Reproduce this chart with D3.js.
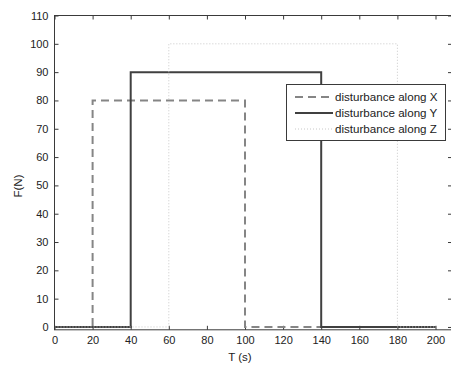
<!DOCTYPE html>
<html>
<head>
<meta charset="utf-8">
<script src="https://cdn.jsdelivr.net/npm/d3@7"></script>
<style>
  html, body { margin: 0; padding: 0; background: #fff; }
  svg text { font-family: "Liberation Sans", Arial, sans-serif; }
</style>
</head>
<body>
<svg id="chart" width="451" height="370"></svg>
<script>
// ---- data ----
const seriesNames = ["disturbance along X", "disturbance along Y", "disturbance along Z"];
const xT = [0, 20, 20, 100, 100, 200];
const xF = [0, 0, 80, 80, 0, 0];
const yT = [0, 40, 40, 140, 140, 200];
const yF = [0, 0, 90, 90, 0, 0];
const zT = [0, 60, 60, 180, 180, 200];
const zF = [0, 0, 100, 100, 0, 0];
const xTicks = [0, 20, 40, 60, 80, 100, 120, 140, 160, 180, 200];
const yTicks = [0, 10, 20, 30, 40, 50, 60, 70, 80, 90, 100, 110];

(function () {
// ---- layout ----
const svg = d3.select("#chart");
const pL = 54.5, pT = 15.5, pB = 329.8, pR = 452;
const x = d3.scaleLinear().domain([0, 200]).range([54.5, 435.5]);
const y = d3.scaleLinear().domain([-1, 110]).range([pB, pT]);
const axisColor = "#3a3a3a";

const gB = svg.append("g").attr("transform", `translate(0,${pB})`)
  .call(d3.axisBottom(x).tickValues(xTicks).tickSize(-4).tickPadding(6).tickSizeOuter(0));
const gT = svg.append("g").attr("transform", `translate(0,${pT})`)
  .call(d3.axisTop(x).tickValues(xTicks).tickSize(-4).tickFormat("").tickSizeOuter(0));
const gL = svg.append("g").attr("transform", `translate(${pL},0)`)
  .call(d3.axisLeft(y).tickValues(yTicks).tickSize(-4).tickPadding(6).tickSizeOuter(0));
const gR = svg.append("g").attr("transform", `translate(${pR},0)`)
  .call(d3.axisRight(y).tickValues(yTicks).tickSize(-4).tickFormat("").tickSizeOuter(0));

[gB, gT, gL, gR].forEach(g => {
  g.select(".domain").remove();
  g.selectAll(".tick line").attr("stroke", axisColor).attr("stroke-width", 1);
  g.selectAll(".tick text").attr("fill", "#222").style("font-size", "11px");
});

const line = d3.line().x(d => x(d[0])).y(d => y(d[1]));
const styles = [
  { t: xT, f: xF, color: "#858585", width: 2, dash: "8,5" },
  { t: yT, f: yF, color: "#404040", width: 2, dash: null },
  { t: zT, f: zF, color: "#c8c8c8", width: 1, dash: "1,2" }
];
styles.forEach(s => {
  svg.append("path")
    .datum(s.t.map((t, i) => [t, s.f[i]]))
    .attr("d", line)
    .attr("fill", "none")
    .attr("stroke", s.color)
    .attr("stroke-width", s.width)
    .attr("stroke-dasharray", s.dash);
});

svg.append("rect")
  .attr("x", pL).attr("y", pT)
  .attr("width", pR - pL).attr("height", pB - pT)
  .attr("fill", "none").attr("stroke", axisColor).attr("stroke-width", 1);

svg.append("text").attr("x", 240).attr("y", 361).attr("text-anchor", "middle")
  .style("font-size", "11.5px").attr("fill", "#222").text("T (s)");
svg.append("text").attr("transform", "translate(22,186) rotate(-90)")
  .attr("text-anchor", "middle").style("font-size", "11.5px").attr("fill", "#222").text("F(N)");

const lg = svg.append("g");
lg.append("rect").attr("x", 286.5).attr("y", 84.5).attr("width", 159).attr("height", 56)
  .attr("fill", "#fff").attr("stroke", axisColor).attr("stroke-width", 1);
seriesNames.forEach((name, i) => {
  const yy = 97 + i * 16;
  lg.append("line").attr("x1", 295).attr("x2", 333).attr("y1", yy).attr("y2", yy)
    .attr("stroke", styles[i].color).attr("stroke-width", styles[i].width)
    .attr("stroke-dasharray", styles[i].dash);
  lg.append("text").attr("x", 335).attr("y", yy + 4).style("font-size", "11.6px")
    .attr("fill", "#222").text(name);
});
})();
</script>
</body>
</html>
